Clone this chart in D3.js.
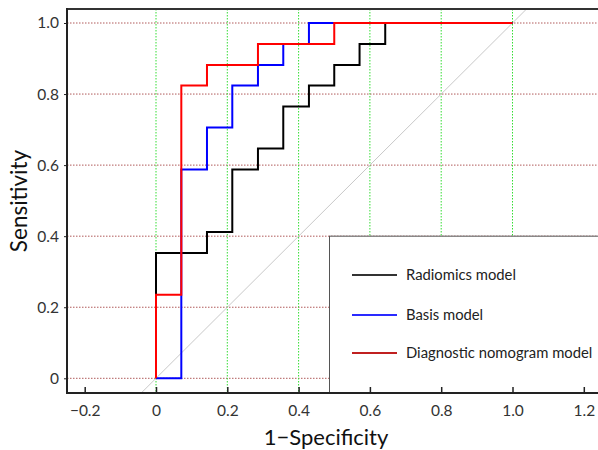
<!DOCTYPE html>
<html>
<head>
<meta charset="utf-8">
<script src="https://cdn.jsdelivr.net/npm/d3@7"></script>
<style>
  body { margin: 0; background: #fff; }
  svg { display: block; font-family: Lato, "Open Sans", sans-serif; }
</style>
</head>
<body>
<svg width="598" height="450"></svg>
<script>
// ROC curve vertices
var radiomicsFpr = [0, 0, 0.143, 0.143, 0.214, 0.214, 0.286, 0.286, 0.357, 0.357, 0.429, 0.429, 0.5, 0.5, 0.571, 0.571, 0.643, 0.643, 1];
var radiomicsTpr = [0, 0.353, 0.353, 0.412, 0.412, 0.588, 0.588, 0.647, 0.647, 0.765, 0.765, 0.824, 0.824, 0.882, 0.882, 0.941, 0.941, 1, 1];

var basisFpr = [0, 0.071, 0.071, 0.143, 0.143, 0.214, 0.214, 0.286, 0.286, 0.357, 0.357, 0.429, 0.429, 1];
var basisTpr = [0, 0, 0.588, 0.588, 0.706, 0.706, 0.824, 0.824, 0.882, 0.882, 0.941, 0.941, 1, 1];

var nomogramFpr = [0, 0, 0.071, 0.071, 0.143, 0.143, 0.286, 0.286, 0.5, 0.5, 1];
var nomogramTpr = [0, 0.235, 0.235, 0.824, 0.824, 0.882, 0.882, 0.941, 0.941, 1, 1];

var seriesNames = ["Radiomics model", "Basis model", "Diagnostic nomogram model"];
var xTicks = [-0.2, 0, 0.2, 0.4, 0.6, 0.8, 1.0, 1.2];
var yTicks = [0, 0.2, 0.4, 0.6, 0.8, 1.0];
var xGrid = [0, 0.2, 0.4, 0.6, 0.8, 1.0];

var colors = ["#000000", "#0000ff", "#ff0000"];
var legendColors = ["#333333", "#2a2aff", "#c02020"];

function zip(xs, ys) {
  return xs.map(function(v, i) { return { fpr: v, tpr: ys[i] }; });
}
var series = [
  zip(radiomicsFpr, radiomicsTpr),
  zip(basisFpr, basisTpr),
  zip(nomogramFpr, nomogramTpr)
];

var svg = d3.select("svg"),
    pLeft = 67, pTop = 9, pRight = 610, pBottom = 393;

var x = d3.scaleLinear().domain([0, 1]).range([156, 512.5]);
var y = d3.scaleLinear().domain([0, 1]).range([378.3, 23]);

svg.append("clipPath").attr("id", "plot")
  .append("rect")
  .attr("x", pLeft).attr("y", pTop)
  .attr("width", pRight - pLeft).attr("height", pBottom - pTop);

var g = svg.append("g").attr("clip-path", "url(#plot)");

// grid
g.selectAll(".hgrid").data(yTicks).enter().append("line")
  .attr("x1", pLeft).attr("x2", pRight)
  .attr("y1", function(d) { return y(d); })
  .attr("y2", function(d) { return y(d); })
  .attr("stroke", "#b05a5a")
  .attr("stroke-width", 1)
  .attr("stroke-dasharray", "1.5,1.5");

g.selectAll(".vgrid").data(xGrid).enter().append("line")
  .attr("y1", pTop).attr("y2", pBottom)
  .attr("x1", function(d) { return x(d); })
  .attr("x2", function(d) { return x(d); })
  .attr("stroke", "#33dd33")
  .attr("stroke-width", 1)
  .attr("stroke-dasharray", "1.5,1.5");

// reference diagonal
g.append("line")
  .attr("x1", x(-0.1)).attr("y1", y(-0.1))
  .attr("x2", x(1.1)).attr("y2", y(1.1))
  .attr("stroke", "#c8c8c8")
  .attr("stroke-width", 1);

var line = d3.line()
  .x(function(d) { return x(d.fpr); })
  .y(function(d) { return y(d.tpr); });

g.selectAll(".roc").data(series).enter().append("path")
  .attr("d", line)
  .attr("fill", "none")
  .attr("stroke", function(d, i) { return colors[i]; })
  .attr("stroke-width", 2);

// legend box
var lg = svg.append("g");
lg.append("rect")
  .attr("x", 329.5).attr("y", y(0.4))
  .attr("width", 300).attr("height", pBottom - y(0.4))
  .attr("fill", "#fff")
  .attr("stroke", "#555")
  .attr("stroke-width", 1);

var rowY = [275, 315, 353];
seriesNames.forEach(function(name, i) {
  lg.append("line")
    .attr("x1", 352).attr("x2", 397)
    .attr("y1", rowY[i]).attr("y2", rowY[i])
    .attr("stroke", legendColors[i])
    .attr("stroke-width", 2);
  lg.append("text")
    .attr("x", 406).attr("y", rowY[i] + 5)
    .attr("font-size", 14.8)
    .attr("fill", "#222")
    .text(name);
});

// axes frame
svg.append("line").attr("x1", pLeft).attr("x2", 598).attr("y1", pTop).attr("y2", pTop)
  .attr("stroke", "#333").attr("stroke-width", 2);
svg.append("line").attr("x1", pLeft).attr("x2", pLeft).attr("y1", pTop - 1).attr("y2", pBottom + 1)
  .attr("stroke", "#222").attr("stroke-width", 2);
svg.append("line").attr("x1", pLeft - 1).attr("x2", 598).attr("y1", pBottom).attr("y2", pBottom)
  .attr("stroke", "#222").attr("stroke-width", 2);

var xAxis = svg.append("g")
  .attr("transform", "translate(0," + pBottom + ")")
  .call(d3.axisBottom(x).tickValues(xTicks).tickSizeInner(-6).tickSizeOuter(0)
    .tickFormat(function(d) { return d === 0 ? "0" : d3.format(".1f")(d).replace("-", "\u2212"); }));
xAxis.select(".domain").remove();
xAxis.selectAll(".tick line").attr("stroke", "#222").attr("stroke-width", 1.5);
xAxis.selectAll("text").attr("font-size", 15.5).attr("fill", "#333").attr("y", 12)
  .attr("font-family", "Lato, sans-serif");

var yAxis = svg.append("g")
  .attr("transform", "translate(" + pLeft + ",0)")
  .call(d3.axisLeft(y).tickValues(yTicks).tickSize(3)
    .tickFormat(function(d) { return d === 0 ? "0" : d3.format(".1f")(d); }));
yAxis.select(".domain").remove();
yAxis.selectAll(".tick line").attr("stroke", "#222");
yAxis.selectAll("text").attr("font-size", 15.5).attr("fill", "#333").attr("x", -8)
  .attr("font-family", "Lato, sans-serif");

// axis titles
svg.append("text")
  .attr("x", 326).attr("y", 445)
  .attr("text-anchor", "middle")
  .attr("font-size", 22)
  .attr("fill", "#111")
  .text("1\u2212Specificity");

svg.append("text")
  .attr("transform", "translate(27,201) rotate(-90)")
  .attr("text-anchor", "middle")
  .attr("font-size", 22.5)
  .attr("fill", "#111")
  .text("Sensitivity");
</script>
</body>
</html>
